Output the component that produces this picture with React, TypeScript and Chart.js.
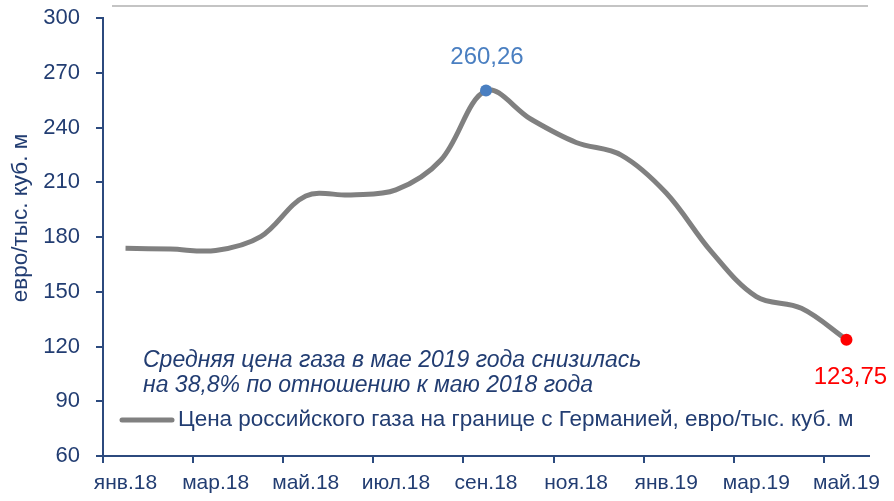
import React, { useEffect, useRef } from 'react';
import { Chart, registerables } from 'chart.js';

Chart.register(...registerables);

const months = ['янв.18', 'фев.18', 'мар.18', 'апр.18', 'май.18', 'июн.18', 'июл.18', 'авг.18', 'сен.18', 'окт.18', 'ноя.18', 'дек.18', 'янв.19', 'фев.19', 'мар.19', 'апр.19', 'май.19'];
const prices = [173.8, 173.4, 172.6, 180.2, 202.5, 203.0, 205.8, 222.2, 260.26, 244.5, 231.8, 224.9, 204.1, 172.0, 147.3, 140.9, 123.75];
const yMin = 60;
const yMax = 300;
const yStep = 30;
const seriesLabel = 'Цена российского газа на границе с Германией, евро/тыс. куб. м';
const yTitle = 'евро/тыс. куб. м';
const noteLines = ['Средняя цена газа в мае 2019 года снизилась', 'на 38,8% по отношению к маю 2018 года'];
const peakIndex = 8;
const lastIndex = 16;

const FONT = "'Liberation Sans', Arial, sans-serif";
const AXIS = '#2c4a7e';
const TEXT = '#223d72';
const LINE = '#808080';
const BLUE = '#4a7fc1';
const RED = '#ff0000';

const fmt = (v: number) => v.toFixed(2).replace('.', ',');

const overlay = {
  id: 'overlay',
  afterDraw(chart: any) {
    const ctx = chart.ctx as CanvasRenderingContext2D;
    ctx.save();
    // top grey rule
    ctx.strokeStyle = '#c4c4c4';
    ctx.lineWidth = 2;
    ctx.beginPath();
    ctx.moveTo(112, 6);
    ctx.lineTo(868, 6);
    ctx.stroke();

    // y title
    ctx.save();
    ctx.translate(21, 218);
    ctx.rotate(-Math.PI / 2);
    ctx.fillStyle = TEXT;
    ctx.font = `22.5px ${FONT}`;
    ctx.textAlign = 'center';
    ctx.textBaseline = 'middle';
    ctx.fillText(yTitle, 0, 0);
    ctx.restore();

    // note
    ctx.fillStyle = TEXT;
    ctx.font = `italic 23px ${FONT}`;
    ctx.textAlign = 'left';
    ctx.textBaseline = 'alphabetic';
    ctx.fillText(noteLines[0], 143, 367);
    ctx.fillText(noteLines[1], 143, 392);

    // legend
    ctx.strokeStyle = LINE;
    ctx.lineWidth = 5;
    ctx.lineCap = 'round';
    ctx.beginPath();
    ctx.moveTo(122, 420);
    ctx.lineTo(172, 420);
    ctx.stroke();
    ctx.fillStyle = TEXT;
    ctx.font = `22.5px ${FONT}`;
    ctx.textBaseline = 'middle';
    ctx.fillText(seriesLabel, 178, 420);

    // data labels
    const meta = chart.getDatasetMeta(0);
    const p1 = meta.data[peakIndex];
    const p2 = meta.data[lastIndex];
    ctx.font = `24px ${FONT}`;
    ctx.textAlign = 'center';
    ctx.fillStyle = BLUE;
    ctx.fillText(fmt(prices[peakIndex]), p1.x + 1, p1.y - 33);
    ctx.fillStyle = RED;
    ctx.fillText(fmt(prices[lastIndex]), p2.x + 4, p2.y + 38);
    ctx.restore();
  },
};

export default function App() {
  const ref = useRef<HTMLCanvasElement>(null);
  useEffect(() => {
    const canvas = ref.current!;
    const chart = new Chart(canvas, {
      type: 'line',
      data: {
        labels: months,
        datasets: [
          {
            label: seriesLabel,
            data: prices,
            borderColor: LINE,
            borderWidth: 5,
            tension: 0.35,
            fill: false,
            pointRadius: (c: any) => (c.dataIndex === peakIndex || c.dataIndex === lastIndex ? 6 : 0),
            pointBackgroundColor: (c: any) => (c.dataIndex === lastIndex ? RED : BLUE),
            pointBorderColor: (c: any) => (c.dataIndex === lastIndex ? RED : BLUE),
            pointBorderWidth: 0,
            pointHoverRadius: 0,
          },
        ],
      },
      options: {
        animation: false,
        responsive: false,
        events: [],
        layout: { padding: { top: 18, right: 25, left: 0, bottom: 0 } },
        plugins: { legend: { display: false }, tooltip: { enabled: false } },
        scales: {
          x: {
            type: 'category',
            offset: true,
            afterFit: (s: any) => {
              s.height = 45;
              s.paddingLeft = 0;
              s.paddingRight = 0;
            },
            border: { color: AXIS, width: 2 },
            grid: {
              offset: true,
              drawOnChartArea: false,
              drawTicks: true,
              tickLength: 7,
              lineWidth: 2,
              color: (c: any) => (c.index % 2 === 0 && c.index < months.length ? AXIS : 'rgba(0,0,0,0)'),
            },
            ticks: {
              autoSkip: false,
              maxRotation: 0,
              minRotation: 0,
              padding: 8,
              color: TEXT,
              font: { family: FONT, size: 21 },
              callback: (_v: any, i: number) => (i % 2 === 0 ? months[i] : ''),
            },
          },
          y: {
            min: yMin,
            max: yMax,
            afterFit: (s: any) => {
              s.width = 103;
              s.paddingTop = 0;
              s.paddingBottom = 0;
            },
            border: { color: AXIS, width: 2 },
            grid: {
              drawOnChartArea: false,
              drawTicks: true,
              tickLength: 7,
              lineWidth: 2,
              color: AXIS,
            },
            ticks: {
              stepSize: yStep,
              padding: 16,
              color: TEXT,
              font: { family: FONT, size: 22 },
            },
          },
        },
      },
      plugins: [overlay],
    } as any);
    return () => chart.destroy();
  }, []);
  return (
    <div style={{ position: 'fixed', left: 0, top: 0, width: 894, height: 501, background: '#fff' }}>
      <canvas ref={ref} width={894} height={501} />
    </div>
  );
}
